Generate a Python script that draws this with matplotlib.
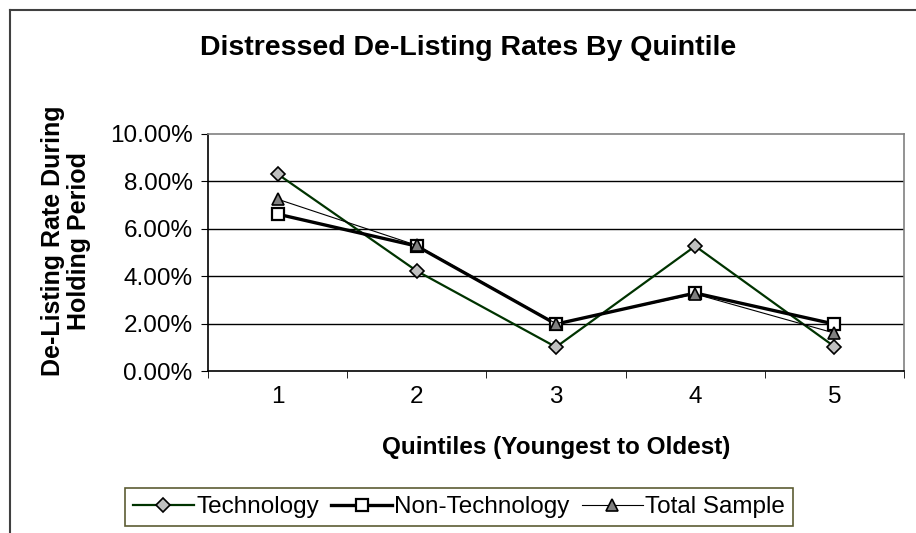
import matplotlib as mpl
import matplotlib.pyplot as plt
from matplotlib.lines import Line2D

# data
quintiles = [1, 2, 3, 4, 5]
technology = [8.31, 4.22, 1.01, 5.27, 1.03]
non_technology = [6.62, 5.27, 1.98, 3.29, 1.98]
total_sample = [7.25, 5.30, 2.00, 3.25, 1.60]
y_ticks = [0, 2, 4, 6, 8, 10]

mpl.rcParams['font.family'] = 'Liberation Sans'

fig = plt.figure(figsize=(9.16, 5.33), dpi=100)
ax = fig.add_axes([208 / 916, 1 - 371 / 533, 696 / 916, 237 / 533])

# outer chart frame (runs off the right and bottom)
fig.add_artist(Line2D([10 / 916, 10 / 916], [0, 1 - 10 / 533], transform=fig.transFigure,
                      color='#404040', lw=1.5))
fig.add_artist(Line2D([10 / 916, 1], [1 - 10 / 533, 1 - 10 / 533], transform=fig.transFigure,
                      color='#404040', lw=1.5))

# gridlines
for t in y_ticks[1:-1]:
    ax.axhline(t, color='black', lw=1, zorder=1)

ax.plot(quintiles, technology, color='#003300', lw=1.6, marker='D', markersize=7,
        markerfacecolor='#c0c0c0', markeredgecolor='black', markeredgewidth=1.2,
        label='Technology', zorder=3)
ax.plot(quintiles, non_technology, color='black', lw=2.4, marker='s', markersize=9,
        markerfacecolor='white', markeredgecolor='black', markeredgewidth=1.6,
        label='Non-Technology', zorder=3)
ax.plot(quintiles, total_sample, color='black', lw=0.8, marker='^', markersize=9,
        markerfacecolor='#808080', markeredgecolor='black', markeredgewidth=1.2,
        label='Total Sample', zorder=4)

ax.set_xlim(0.5, 5.5)
ax.set_ylim(0, 10)
ax.set_yticks(y_ticks)
ax.set_yticklabels(['%.2f%%' % t for t in y_ticks], fontsize=17.5)
ax.set_xticks(quintiles)
ax.set_xticklabels([str(q) for q in quintiles], fontsize=17.5)
ax.set_xticks([0.5, 1.5, 2.5, 3.5, 4.5, 5.5], minor=True)
ax.tick_params(axis='x', which='major', length=0, pad=11)
ax.tick_params(axis='x', which='minor', length=5, direction='out', color='black')
ax.tick_params(axis='y', length=5, direction='out', pad=6)

for side in ['top', 'right']:
    ax.spines[side].set_color('#808080')
for side in ['left', 'bottom']:
    ax.spines[side].set_color('black')
for s in ax.spines.values():
    s.set_linewidth(1.2)

ax.set_xlabel('Quintiles (Youngest to Oldest)', fontsize=17.5, fontweight='bold', labelpad=20)
ax.set_ylabel('De-Listing Rate During\nHolding Period', fontsize=18, fontweight='bold',
              linespacing=1.1)
ax.yaxis.set_label_coords(-0.168, 0.55)

fig.text(468 / 916, 1 - 48 / 533, 'Distressed De-Listing Rates By Quintile',
         ha='center', va='center', fontsize=20.5, fontweight='bold')

leg = fig.legend(loc='center', bbox_to_anchor=(459 / 916, 1 - 507 / 533), ncol=3,
                 fontsize=17.5, frameon=True, fancybox=False, handlelength=2.5,
                 handletextpad=0.1, columnspacing=0.5, borderpad=0.32, borderaxespad=0)
leg.get_frame().set_edgecolor('#333300')
leg.get_frame().set_linewidth(1.2)

fig.savefig('out.png', dpi=100)
